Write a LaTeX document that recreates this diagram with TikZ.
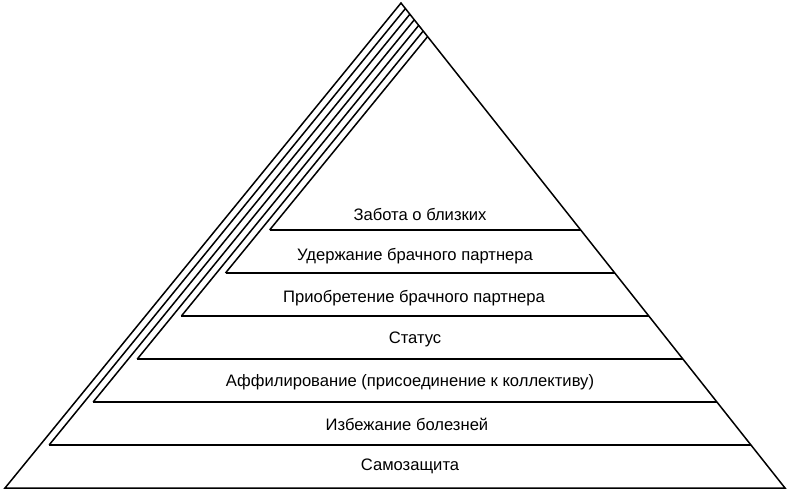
\documentclass[tikz,border=0pt]{standalone}
\usepackage{fontspec}
\setmainfont{Liberation Sans}

\begin{document}
\begin{tikzpicture}[x=1pt,y=1pt,yscale=-1,xscale=1,line width=1.5pt,
    tier/.style={inner sep=0.75pt,font=\fontsize{16.6}{19}\selectfont}]
    \useasboundingbox (0,0) rectangle (790,491);

    %Shape: Triangle
    \draw (5,488) -- (401,3) -- (785,488) -- cycle ;

    %Straight Lines (inner left edges)
    \draw    (49.1,445) -- (405.4,8.6) ;
    \draw    (93.2,402) -- (409.9,14.2) ;
    \draw    (137.3,359) -- (414.3,19.8) ;
    \draw    (181.4,316) -- (418.7,25.4) ;
    \draw    (225.5,273) -- (423.2,31.0) ;
    \draw    (269.6,230) -- (427.6,36.6) ;

    %Straight Lines (tiers)
    \draw    (49.1,445) -- (750.95,445) ;
    \draw    (93.2,402) -- (716.9,402) ;
    \draw    (137.3,359) -- (682.85,359) ;
    \draw    (181.4,316) -- (648.8,316) ;
    \draw    (225.5,273) -- (614.75,273) ;
    \draw    (269.6,230) -- (580.7,230) ;

    % Text Node
    \node [tier] (care) at (420,214) {Забота о близких};
    % Text Node
    \node [tier] (retain) at (415,256) {Удержание брачного партнера};
    % Text Node
    \node [tier] (acquire) at (414,298) {Приобретение брачного партнера};
    % Text Node
    \node [tier] (status) at (415,339) {Статус};
    % Text Node
    \node [tier] (affil) at (410,382) {Аффилирование (присоединение к коллективу)};
    % Text Node
    \node [tier] (disease) at (407,424) {Избежание болезней};
    % Text Node
    \node [tier] (selfprot) at (410,466) {Самозащита};

\end{tikzpicture}
\end{document}
